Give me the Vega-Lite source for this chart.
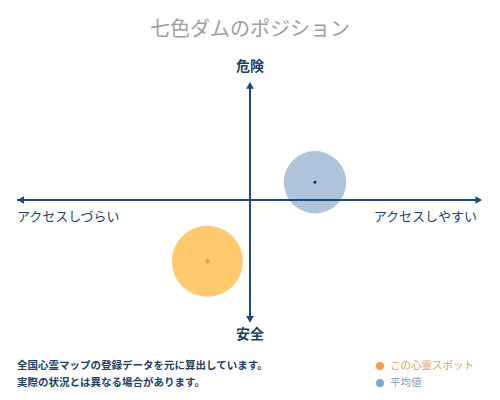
{
  "$schema": "https://vega.github.io/schema/vega-lite/v6.json",
  "width": 500,
  "height": 400,
  "padding": 0,
  "autosize": {"type": "fit", "contains": "padding"},
  "background": "white",
  "config": {
    "view": {"stroke": null},
    "text": {"font": "Noto Sans CJK JP", "baseline": "middle"}
  },
  "data": {"values": [{}]},
  "datasets": {
    "points": [
      {"name": "平均値", "kind": "average", "access": 0.279, "danger": 0.148},
      {"name": "七色ダム", "kind": "spot", "access": -0.183, "danger": -0.511}
    ]
  },
  "layer": [
    {
      "data": {"name": "points"},
      "mark": {"type": "circle", "opacity": 1},
      "encoding": {
        "x": {"field": "access", "type": "quantitative", "scale": {"domain": [-1.073, 1.073], "nice": false, "zero": false}, "axis": null},
        "y": {"field": "danger", "type": "quantitative", "scale": {"domain": [-1.6667, 1.6667], "nice": false, "zero": false}, "axis": null},
        "color": {"field": "kind", "type": "nominal", "scale": {"domain": ["spot", "average"], "range": ["#fdca6e", "#afc3db"]}, "legend": null},
        "size": {"condition": {"test": "datum.kind === 'spot'", "value": 5040}, "value": 3900}
      }
    },
    {
      "mark": {"type": "rule", "color": "#1d4a7a", "strokeWidth": 2},
      "encoding": {
        "x": {"datum": -1, "type": "quantitative", "scale": {"domain": [-1.073, 1.073], "nice": false, "zero": false}, "axis": null},
        "x2": {"datum": 0.99},
        "y": {"datum": 0, "type": "quantitative", "scale": {"domain": [-1.6667, 1.6667], "nice": false, "zero": false}, "axis": null}
      }
    },
    {
      "mark": {"type": "rule", "color": "#1d4a7a", "strokeWidth": 2},
      "encoding": {
        "x": {"datum": 0, "type": "quantitative", "scale": {"domain": [-1.073, 1.073], "nice": false, "zero": false}, "axis": null},
        "y": {"datum": -1.0, "type": "quantitative", "scale": {"domain": [-1.6667, 1.6667], "nice": false, "zero": false}, "axis": null},
        "y2": {"datum": 0.96}
      }
    },
    {
      "mark": {"type": "point", "shape": "triangle-right", "filled": true, "color": "#1d4a7a", "size": 60, "opacity": 1},
      "encoding": {
        "x": {"datum": 0.982, "type": "quantitative", "scale": {"domain": [-1.073, 1.073], "nice": false, "zero": false}, "axis": null},
        "y": {"datum": 0, "type": "quantitative", "scale": {"domain": [-1.6667, 1.6667], "nice": false, "zero": false}, "axis": null}
      }
    },
    {
      "mark": {"type": "point", "shape": "triangle-left", "filled": true, "color": "#1d4a7a", "size": 60, "opacity": 1},
      "encoding": {
        "x": {"datum": -0.984, "type": "quantitative", "scale": {"domain": [-1.073, 1.073], "nice": false, "zero": false}, "axis": null},
        "y": {"datum": 0, "type": "quantitative", "scale": {"domain": [-1.6667, 1.6667], "nice": false, "zero": false}, "axis": null}
      }
    },
    {
      "mark": {"type": "point", "shape": "triangle-up", "filled": true, "color": "#1d4a7a", "size": 60, "opacity": 1},
      "encoding": {
        "x": {"datum": 0, "type": "quantitative", "scale": {"domain": [-1.073, 1.073], "nice": false, "zero": false}, "axis": null},
        "y": {"datum": 0.955, "type": "quantitative", "scale": {"domain": [-1.6667, 1.6667], "nice": false, "zero": false}, "axis": null}
      }
    },
    {
      "mark": {"type": "point", "shape": "triangle-down", "filled": true, "color": "#1d4a7a", "size": 60, "opacity": 1},
      "encoding": {
        "x": {"datum": 0, "type": "quantitative", "scale": {"domain": [-1.073, 1.073], "nice": false, "zero": false}, "axis": null},
        "y": {"datum": -0.995, "type": "quantitative", "scale": {"domain": [-1.6667, 1.6667], "nice": false, "zero": false}, "axis": null}
      }
    },
    {
      "data": {"name": "points"},
      "transform": [{"filter": "datum.kind === 'average'"}],
      "mark": {"type": "circle", "color": "#1a2a40", "size": 8, "opacity": 1},
      "encoding": {
        "x": {"field": "access", "type": "quantitative", "scale": {"domain": [-1.073, 1.073], "nice": false, "zero": false}, "axis": null},
        "y": {"field": "danger", "type": "quantitative", "scale": {"domain": [-1.6667, 1.6667], "nice": false, "zero": false}, "axis": null}
      }
    },
    {
      "data": {"name": "points"},
      "transform": [{"filter": "datum.kind === 'spot'"}],
      "mark": {"type": "point", "shape": "diamond", "filled": true, "color": "#f0a020", "size": 30, "opacity": 1},
      "encoding": {
        "x": {"field": "access", "type": "quantitative", "scale": {"domain": [-1.073, 1.073], "nice": false, "zero": false}, "axis": null},
        "y": {"field": "danger", "type": "quantitative", "scale": {"domain": [-1.6667, 1.6667], "nice": false, "zero": false}, "axis": null}
      }
    },
    {
      "mark": {"type": "text", "text": "七色ダムのポジション", "fontSize": 20, "color": "#a0a0a0", "align": "center"},
      "encoding": {
        "x": {"datum": 0, "type": "quantitative", "scale": {"domain": [-1.073, 1.073], "nice": false, "zero": false}, "axis": null},
        "y": {"datum": 1.417, "type": "quantitative", "scale": {"domain": [-1.6667, 1.6667], "nice": false, "zero": false}, "axis": null}
      }
    },
    {
      "mark": {"type": "text", "text": "危険", "fontSize": 14, "fontWeight": "bold", "color": "#1d3f66", "align": "center"},
      "encoding": {
        "x": {"datum": 0, "type": "quantitative", "scale": {"domain": [-1.073, 1.073], "nice": false, "zero": false}, "axis": null},
        "y": {"datum": 1.108, "type": "quantitative", "scale": {"domain": [-1.6667, 1.6667], "nice": false, "zero": false}, "axis": null}
      }
    },
    {
      "mark": {"type": "text", "text": "安全", "fontSize": 14, "fontWeight": "bold", "color": "#1d3f66", "align": "center"},
      "encoding": {
        "x": {"datum": 0, "type": "quantitative", "scale": {"domain": [-1.073, 1.073], "nice": false, "zero": false}, "axis": null},
        "y": {"datum": -1.125, "type": "quantitative", "scale": {"domain": [-1.6667, 1.6667], "nice": false, "zero": false}, "axis": null}
      }
    },
    {
      "mark": {"type": "text", "text": "アクセスしづらい", "fontSize": 13, "color": "#1d3f66", "align": "left"},
      "encoding": {
        "x": {"datum": -1, "type": "quantitative", "scale": {"domain": [-1.073, 1.073], "nice": false, "zero": false}, "axis": null},
        "y": {"datum": -0.14, "type": "quantitative", "scale": {"domain": [-1.6667, 1.6667], "nice": false, "zero": false}, "axis": null}
      }
    },
    {
      "mark": {"type": "text", "text": "アクセスしやすい", "fontSize": 13, "color": "#1d3f66", "align": "right"},
      "encoding": {
        "x": {"datum": 0.974, "type": "quantitative", "scale": {"domain": [-1.073, 1.073], "nice": false, "zero": false}, "axis": null},
        "y": {"datum": -0.14, "type": "quantitative", "scale": {"domain": [-1.6667, 1.6667], "nice": false, "zero": false}, "axis": null}
      }
    },
    {
      "mark": {"type": "text", "text": "全国心霊マップの登録データを元に算出しています。", "fontSize": 10.5, "fontWeight": "bold", "color": "#1d3f66", "align": "left"},
      "encoding": {
        "x": {"datum": -1, "type": "quantitative", "scale": {"domain": [-1.073, 1.073], "nice": false, "zero": false}, "axis": null},
        "y": {"datum": -1.383, "type": "quantitative", "scale": {"domain": [-1.6667, 1.6667], "nice": false, "zero": false}, "axis": null}
      }
    },
    {
      "mark": {"type": "text", "text": "実際の状況とは異なる場合があります。", "fontSize": 10.5, "fontWeight": "bold", "color": "#1d3f66", "align": "left"},
      "encoding": {
        "x": {"datum": -1, "type": "quantitative", "scale": {"domain": [-1.073, 1.073], "nice": false, "zero": false}, "axis": null},
        "y": {"datum": -1.525, "type": "quantitative", "scale": {"domain": [-1.6667, 1.6667], "nice": false, "zero": false}, "axis": null}
      }
    },
    {
      "mark": {"type": "circle", "color": "#f0a040", "size": 64, "opacity": 1},
      "encoding": {
        "x": {"datum": 0.558, "type": "quantitative", "scale": {"domain": [-1.073, 1.073], "nice": false, "zero": false}, "axis": null},
        "y": {"datum": -1.383, "type": "quantitative", "scale": {"domain": [-1.6667, 1.6667], "nice": false, "zero": false}, "axis": null}
      }
    },
    {
      "mark": {"type": "circle", "color": "#7ea6cc", "size": 64, "opacity": 1},
      "encoding": {
        "x": {"datum": 0.558, "type": "quantitative", "scale": {"domain": [-1.073, 1.073], "nice": false, "zero": false}, "axis": null},
        "y": {"datum": -1.525, "type": "quantitative", "scale": {"domain": [-1.6667, 1.6667], "nice": false, "zero": false}, "axis": null}
      }
    },
    {
      "mark": {"type": "text", "text": "この心霊スポット", "fontSize": 10.5, "color": "#e0a060", "align": "left"},
      "encoding": {
        "x": {"datum": 0.601, "type": "quantitative", "scale": {"domain": [-1.073, 1.073], "nice": false, "zero": false}, "axis": null},
        "y": {"datum": -1.383, "type": "quantitative", "scale": {"domain": [-1.6667, 1.6667], "nice": false, "zero": false}, "axis": null}
      }
    },
    {
      "mark": {"type": "text", "text": "平均値", "fontSize": 10.5, "color": "#7f9fc0", "align": "left"},
      "encoding": {
        "x": {"datum": 0.601, "type": "quantitative", "scale": {"domain": [-1.073, 1.073], "nice": false, "zero": false}, "axis": null},
        "y": {"datum": -1.525, "type": "quantitative", "scale": {"domain": [-1.6667, 1.6667], "nice": false, "zero": false}, "axis": null}
      }
    }
  ]
}
